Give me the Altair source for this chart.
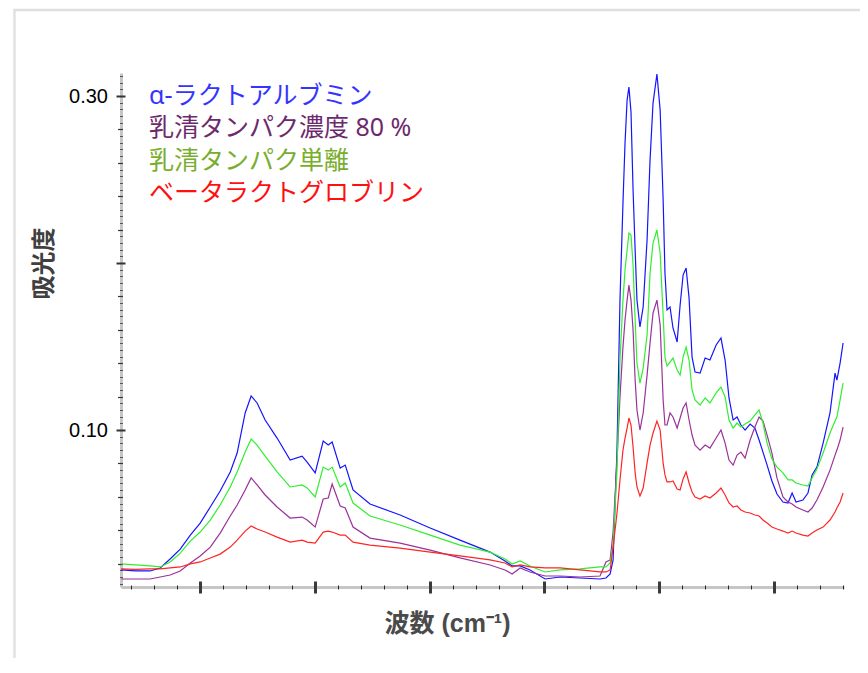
import altair as alt
import pandas as pd

# ---- data ----
wavenumber = [3844, 3783, 3718, 3674, 3631, 3587, 3543, 3500, 3456, 3413,
              3369, 3339, 3304, 3278, 3252, 3217, 3165, 3108, 3056, 3034,
              2999, 2964, 2942, 2925, 2890, 2868, 2834, 2760, 2629, 2498,
              2368, 2237, 2172, 2141, 2106, 2063, 1997, 1932, 1845, 1758,
              1732, 1714, 1701, 1684, 1671, 1658, 1649, 1640, 1632, 1623,
              1614, 1605, 1597, 1584, 1570, 1553, 1540, 1527, 1510, 1496,
              1483, 1475, 1466, 1453, 1440, 1422, 1409, 1396, 1383, 1370,
              1357, 1344, 1322, 1300, 1279, 1252, 1231, 1213, 1196, 1178,
              1161, 1144, 1126, 1104, 1083, 1065, 1048, 1030, 1009, 987,
              961, 939, 921, 904, 874, 852, 834, 813, 786, 756,
              734, 726, 712, 699]

alpha_lactalbumin = [0.0162, 0.0156, 0.0156, 0.0174, 0.0228, 0.0287, 0.0371, 0.0443, 0.0539, 0.0635,
                     0.0749, 0.0862, 0.1102, 0.1204, 0.1162, 0.1060, 0.0952, 0.0820, 0.0844, 0.0808,
                     0.0743, 0.0934, 0.0910, 0.0928, 0.0772, 0.0790, 0.0641, 0.0557, 0.0491, 0.0413,
                     0.0341, 0.0269, 0.0216, 0.0186, 0.0186, 0.0162, 0.0108, 0.0120, 0.0114, 0.0108,
                     0.0114, 0.0138, 0.0222, 0.0880, 0.1778, 0.2359, 0.2719, 0.2976, 0.3054, 0.2904,
                     0.2437, 0.2078, 0.1778, 0.1617, 0.1737, 0.2138, 0.2617, 0.2958, 0.3132, 0.2916,
                     0.2377, 0.1940, 0.1719, 0.1737, 0.1611, 0.1527, 0.1749, 0.1928, 0.1970, 0.1790,
                     0.1437, 0.1347, 0.1341, 0.1431, 0.1419, 0.1509, 0.1551, 0.1419, 0.1192, 0.1060,
                     0.1078, 0.1030, 0.1000, 0.1036, 0.1012, 0.0940, 0.0868, 0.0790, 0.0695, 0.0617,
                     0.0569, 0.0563, 0.0623, 0.0569, 0.0581, 0.0623, 0.0731, 0.0778, 0.0922, 0.1102,
                     0.1341, 0.1299, 0.1401, 0.1521]

whey_concentrate_80 = [0.0108, 0.0108, 0.0108, 0.0120, 0.0132, 0.0156, 0.0204, 0.0246, 0.0299, 0.0383,
                       0.0485, 0.0551, 0.0641, 0.0713, 0.0671, 0.0611, 0.0539, 0.0473, 0.0479, 0.0461,
                       0.0419, 0.0587, 0.0593, 0.0677, 0.0545, 0.0533, 0.0419, 0.0353, 0.0323, 0.0281,
                       0.0234, 0.0192, 0.0162, 0.0138, 0.0174, 0.0150, 0.0126, 0.0126, 0.0120, 0.0126,
                       0.0210, 0.0222, 0.0389, 0.0820, 0.1198, 0.1497, 0.1659, 0.1778, 0.1868, 0.1778,
                       0.1599, 0.1299, 0.1120, 0.1000, 0.1102, 0.1329, 0.1521, 0.1701, 0.1778, 0.1629,
                       0.1180, 0.1030, 0.1030, 0.1102, 0.1078, 0.1012, 0.1072, 0.1132, 0.1162, 0.1060,
                       0.0970, 0.0910, 0.0880, 0.0910, 0.0892, 0.0952, 0.1000, 0.0922, 0.0820, 0.0790,
                       0.0850, 0.0868, 0.0832, 0.0940, 0.1018, 0.1078, 0.1054, 0.0970, 0.0862, 0.0713,
                       0.0599, 0.0569, 0.0557, 0.0539, 0.0521, 0.0509, 0.0533, 0.0581, 0.0659, 0.0760,
                       0.0850, 0.0880, 0.0940, 0.1018]

whey_isolate = [0.0198, 0.0192, 0.0186, 0.0180, 0.0210, 0.0263, 0.0335, 0.0389, 0.0461, 0.0551,
                0.0659, 0.0749, 0.0868, 0.0946, 0.0910, 0.0844, 0.0749, 0.0659, 0.0671, 0.0653,
                0.0599, 0.0778, 0.0760, 0.0778, 0.0659, 0.0683, 0.0563, 0.0485, 0.0431, 0.0371,
                0.0311, 0.0269, 0.0228, 0.0198, 0.0216, 0.0186, 0.0150, 0.0162, 0.0168, 0.0180,
                0.0180, 0.0204, 0.0311, 0.0760, 0.1419, 0.1778, 0.1958, 0.2078, 0.2180, 0.2168,
                0.1988, 0.1659, 0.1401, 0.1281, 0.1371, 0.1569, 0.1940, 0.2120, 0.2198, 0.2060,
                0.1689, 0.1437, 0.1383, 0.1407, 0.1431, 0.1359, 0.1329, 0.1437, 0.1497, 0.1419,
                0.1240, 0.1180, 0.1150, 0.1192, 0.1162, 0.1222, 0.1257, 0.1198, 0.1060, 0.1012,
                0.1042, 0.1018, 0.1036, 0.1054, 0.1090, 0.1120, 0.1042, 0.0922, 0.0826, 0.0778,
                0.0743, 0.0701, 0.0701, 0.0683, 0.0671, 0.0665, 0.0713, 0.0766, 0.0862, 0.0982,
                0.1054, 0.1078, 0.1180, 0.1281]

beta_lactoglobulin = [0.0168, 0.0165, 0.0168, 0.0168, 0.0174, 0.0180, 0.0198, 0.0210, 0.0234, 0.0257,
                      0.0299, 0.0341, 0.0395, 0.0425, 0.0407, 0.0389, 0.0359, 0.0329, 0.0341, 0.0329,
                      0.0323, 0.0389, 0.0395, 0.0389, 0.0371, 0.0371, 0.0329, 0.0311, 0.0293, 0.0269,
                      0.0246, 0.0222, 0.0204, 0.0180, 0.0192, 0.0180, 0.0174, 0.0174, 0.0162, 0.0150,
                      0.0150, 0.0162, 0.0299, 0.0503, 0.0701, 0.0880, 0.0952, 0.1012, 0.1072, 0.1030,
                      0.0898, 0.0743, 0.0659, 0.0605, 0.0653, 0.0802, 0.0910, 0.0982, 0.1054, 0.1000,
                      0.0802, 0.0731, 0.0689, 0.0689, 0.0695, 0.0647, 0.0641, 0.0707, 0.0749, 0.0683,
                      0.0629, 0.0599, 0.0587, 0.0605, 0.0593, 0.0623, 0.0653, 0.0611, 0.0563, 0.0539,
                      0.0545, 0.0521, 0.0509, 0.0503, 0.0491, 0.0485, 0.0461, 0.0443, 0.0419, 0.0407,
                      0.0395, 0.0383, 0.0395, 0.0383, 0.0371, 0.0365, 0.0383, 0.0401, 0.0419, 0.0461,
                      0.0509, 0.0533, 0.0569, 0.0623]

series_names = ["α-ラクトアルブミン", "乳清タンパク濃度 80 %", "乳清タンパク単離", "ベータラクトグロブリン"]
line_colors = ["#1414ff", "#9a329a", "#30ee30", "#ff2424"]
label_colors = ["#3434ff", "#6c2a6c", "#78ae2e", "#ff1010"]

x_major_ticks = [1000, 1500, 2000, 2500, 3000, 3500]
x_minor_ticks = [v for v in range(700, 3900, 100) if v % 500 != 0]
y_major_ticks = [0.10, 0.20, 0.30]
y_medium_ticks = [k * 20 / 1000 for k in range(1, 16) if (k * 20) % 100 != 0]
y_small_ticks = [k * 4 / 1000 for k in range(2, 79) if (k * 4) % 20 != 0]

x_title = "波数 (cm⁻¹)"
y_title = "吸光度"

# ---- long table ----
all_values = [alpha_lactalbumin, whey_concentrate_80, whey_isolate, beta_lactoglobulin]
rows = []
for name, vals in zip(series_names, all_values):
    for w, a in zip(wavenumber, vals):
        rows.append({"wavenumber": w, "absorbance": a, "series": name})
df = pd.DataFrame(rows)

LATIN = "'Liberation Sans', Arial, sans-serif"
TITLE_FONT = "'Liberation Sans', 'Noto Sans CJK JP', sans-serif"
LEGEND_FONT = "'Noto Sans', 'Noto Sans CJK JP', sans-serif"

xscale = alt.Scale(domain=[695, 3845], reverse=True, nice=False, zero=False)
yscale = alt.Scale(domain=[0.006, 0.3138], nice=False, zero=False)

color_expr = ""
for n, c in zip(series_names[:-1], label_colors[:-1]):
    color_expr += f"datum.label == '{n}' ? '{c}' : "
color_expr += f"'{label_colors[-1]}'"

# frame around the figure
frame_v = alt.Chart(alt.Data(values=[{}])).mark_rule(color="#e0e0e0", strokeWidth=2.4).encode(
    x=alt.value(-106.5), y=alt.value(-63), y2=alt.value(700))
frame_h = alt.Chart(alt.Data(values=[{}])).mark_rule(color="#e0e0e0", strokeWidth=2.4).encode(
    x=alt.value(-107.7), x2=alt.value(900), y=alt.value(-63))

# axis domain lines
dom = alt.Chart(df).mark_line(strokeOpacity=0).encode(
    x=alt.X("wavenumber:Q", scale=xscale,
            axis=alt.Axis(orient="bottom", ticks=False, labels=False, grid=False, domain=True,
                          domainColor="#c6c6c6", domainWidth=3, title=None)),
    y=alt.Y("absorbance:Q", scale=yscale,
            axis=alt.Axis(orient="left", ticks=False, labels=False, grid=False, domain=True,
                          domainColor="#c6c6c6", domainWidth=3, title=None)),
    detail="series:N",
)

# minor ticks
minor = alt.Chart(df).mark_line(strokeOpacity=0).encode(
    x=alt.X("wavenumber:Q", scale=xscale,
            axis=alt.Axis(orient="bottom", values=x_minor_ticks, labels=False, grid=False, domain=False,
                          tickSize=4, tickWidth=1, tickColor="#262626", offset=-2, title=None)),
    y=alt.Y("absorbance:Q", scale=yscale,
            axis=alt.Axis(orient="left", values=y_medium_ticks, labels=False, grid=False, domain=False,
                          tickSize=5, tickWidth=1.2, tickColor="#333333", offset=-1.5, title=None)),
    detail="series:N",
)

small = alt.Chart(df).mark_line(strokeOpacity=0).encode(
    x=alt.X("wavenumber:Q", scale=xscale, axis=None),
    y=alt.Y("absorbance:Q", scale=yscale,
            axis=alt.Axis(orient="left", values=y_small_ticks, labels=False, grid=False, domain=False,
                          tickSize=3, tickWidth=1, tickColor="#555555", offset=-1.5, title=None)),
    detail="series:N",
)

lines = alt.Chart(df).mark_line(strokeWidth=1.2, clip=True).encode(
    x=alt.X("wavenumber:Q", scale=xscale,
            axis=alt.Axis(orient="bottom", values=x_major_ticks, labels=False, grid=False, domain=False,
                          tickSize=12, tickWidth=3, tickColor="#3a3a3a", offset=-6,
                          title=x_title, titleFont=TITLE_FONT, titleFontSize=25, titleFontWeight="bold",
                          titleColor="#4a4a4a", titleX=326, titleY=42.5, titleAlign="center",
                          titleBaseline="middle")),
    y=alt.Y("absorbance:Q", scale=yscale,
            axis=alt.Axis(orient="left", values=y_major_ticks, grid=False, domain=False,
                          labelExpr="abs(datum.value - 0.2) < 0.001 ? '' : format(datum.value, '.2f')",
                          labelFont=LATIN, labelFontSize=20, labelColor="#000000", labelPadding=8.5,
                          tickSize=9, tickWidth=2, tickColor="#333333", offset=-4,
                          title=y_title, titleFont=TITLE_FONT, titleFontSize=24, titleFontWeight="bold",
                          titleColor="#404040", titleX=-81, titleY=190, titleAngle=270,
                          titleAlign="center", titleBaseline="middle")),
    color=alt.Color("series:N", scale=alt.Scale(domain=series_names, range=line_colors),
                    legend=alt.Legend(title=None, orient="none", legendX=3, legendY=10.5,
                                      direction="vertical", symbolSize=0, symbolStrokeWidth=0,
                                      symbolOpacity=0, labelOffset=0, padding=0, rowPadding=6.3,
                                      labelFont=LEGEND_FONT, labelFontSize=25, labelLimit=600,
                                      labelColor={"expr": color_expr})),
)

chart = alt.layer(frame_v, frame_h, dom, minor, small, lines).resolve_axis(
    x="independent", y="independent"
).properties(
    width=723, height=514,
    autosize=alt.AutoSizeParams(type="none"),
    padding={"left": 113, "top": 65, "right": 16, "bottom": 71},
).configure_view(stroke="transparent")

chart.save("out.html", embed_options={"renderer": "svg", "actions": False})
